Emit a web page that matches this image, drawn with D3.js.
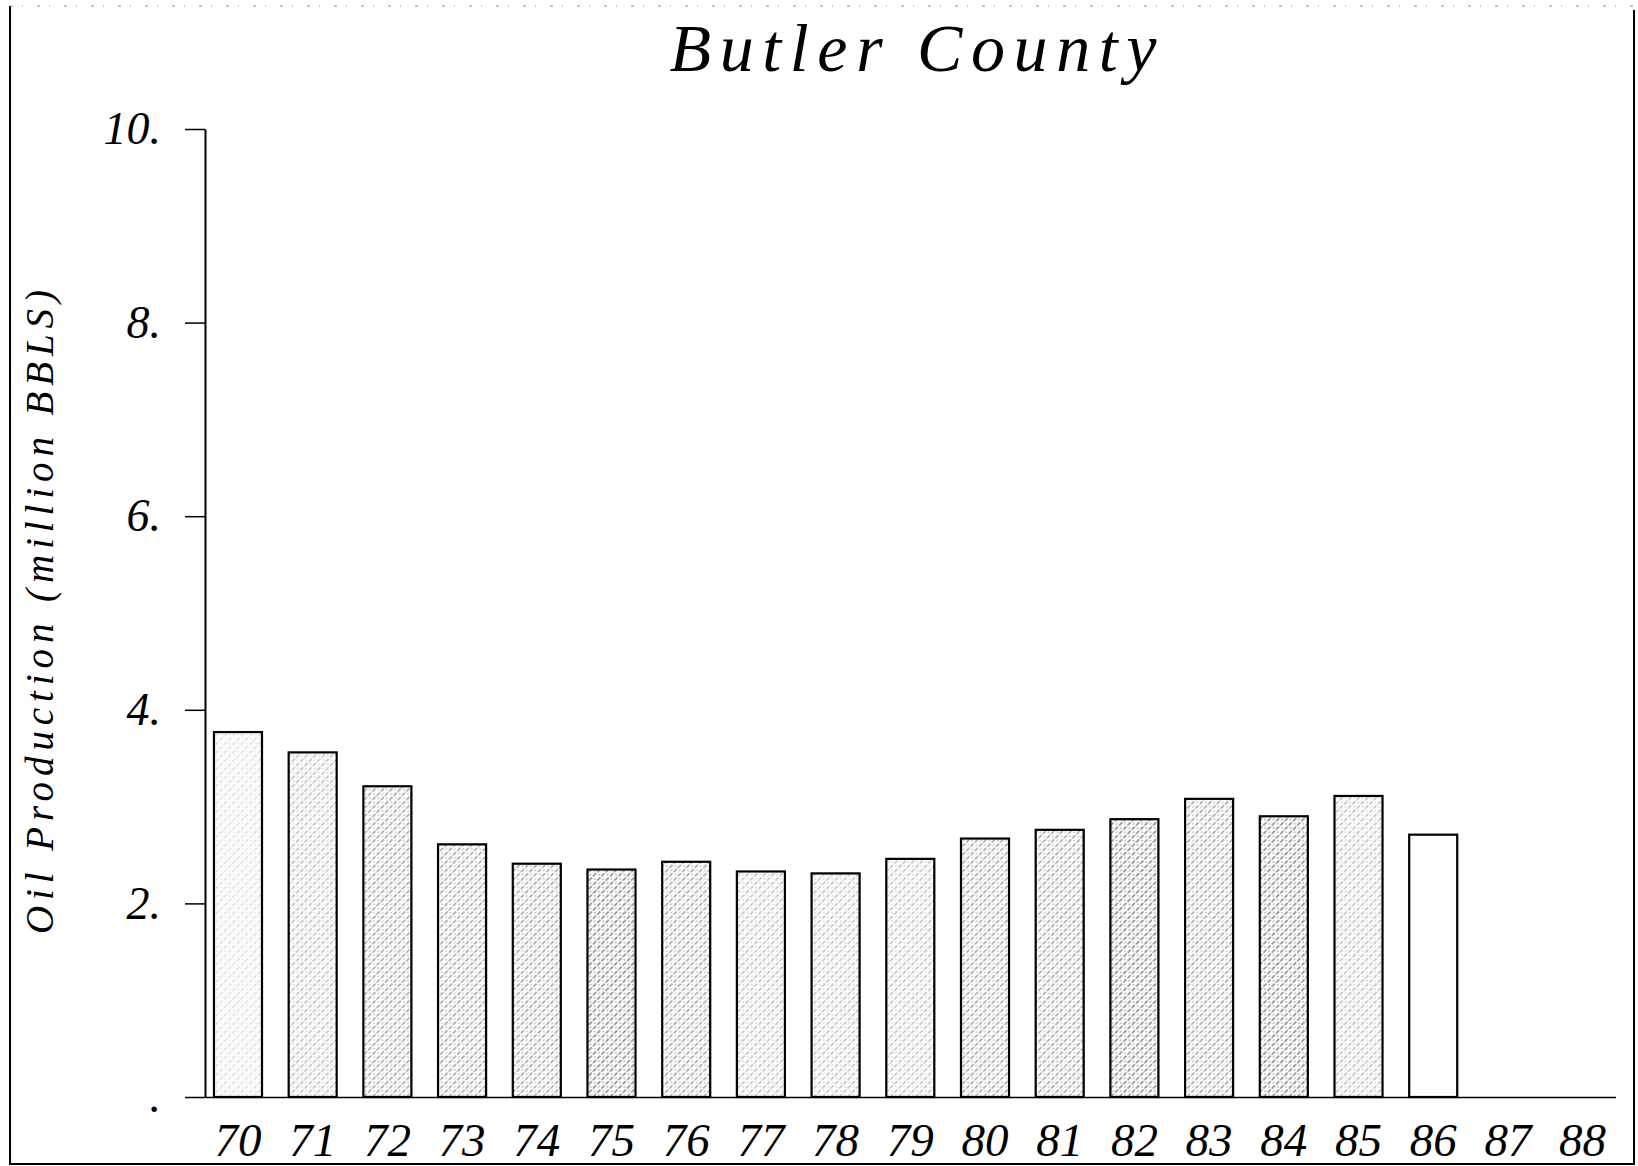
<!DOCTYPE html>
<html>
<head>
<meta charset="utf-8">
<script src="https://cdn.jsdelivr.net/npm/d3@7"></script>
<style>
  html, body { margin: 0; padding: 0; background: #fff; }
</style>
</head>
<body>
<script>
// chart data
const years = ["70","71","72","73","74","75","76","77","78","79","80","81","82","83","84","85","86","87","88"]
const production = [3.77, 3.56, 3.21, 2.61, 2.41, 2.35, 2.43, 2.33, 2.31, 2.46, 2.67, 2.76, 2.87, 3.08, 2.90, 3.11, 2.71, null, null]
const yTicks = [0, 2, 4, 6, 8, 10]
// hatch density of each bar (0 = white .. 4 = dense)
const shade = [1, 2, 3, 3, 3, 4, 3, 2, 2, 2, 3, 3, 4, 3, 4, 2, 0, 0, 0]

const width = 1638, height = 1166
const font = "'Liberation Serif', 'Times New Roman', serif"

const svg = d3.select("body").append("svg")
      .attr("width", width)
      .attr("height", height)
      .attr("viewBox", [0, 0, width, height])

// hatch patterns
const defs = svg.append("defs")
const levels = [0, 0.25, 0.45, 0.65, 0.85]
levels.forEach((op, i) => {
      const p = defs.append("pattern")
            .attr("id", "hatch" + i)
            .attr("patternUnits", "userSpaceOnUse")
            .attr("width", 6)
            .attr("height", 6)
            .attr("patternTransform", "rotate(45)")
      p.append("rect").attr("width", 6).attr("height", 6).attr("fill", "#fff")
      if (op > 0) {
            p.append("line")
                  .attr("x1", 1).attr("x2", 1)
                  .attr("y1", 0).attr("y2", 6)
                  .attr("stroke", "#222")
                  .attr("stroke-width", 1)
                  .attr("stroke-dasharray", "2.5 1.5")
                  .attr("opacity", op)
            p.append("circle")
                  .attr("cx", 4).attr("cy", 3).attr("r", 0.7)
                  .attr("fill", "#222")
                  .attr("opacity", op * 0.8)
      }
})

// frame
svg.append("path")
      .attr("d", `M10,6 V1164 H1634 V10`)
      .attr("fill", "none")
      .attr("stroke", "#000")
      .attr("stroke-width", 2)
svg.append("line")
      .attr("x1", 10).attr("x2", 1634)
      .attr("y1", 6).attr("y2", 6)
      .attr("stroke", "#888")
      .attr("stroke-width", 1)
      .attr("stroke-dasharray", "3 9 1 14")

// scales
const x = d3.scaleBand()
      .domain(years)
      .range([205, 1615.6])
      .paddingInner(0.357)
      .paddingOuter(0.12)
const y = d3.scaleLinear()
      .domain([0, 10])
      .range([1097, 129])

// bars
svg.append("g")
      .selectAll("rect")
      .data(years.map((yr, i) => ({ yr, v: production[i], s: shade[i] })).filter(d => d.v != null))
      .join("rect")
      .attr("x", d => x(d.yr))
      .attr("y", d => y(d.v))
      .attr("width", x.bandwidth())
      .attr("height", d => y(0) - y(d.v))
      .attr("fill", d => `url(#hatch${d.s})`)
      .attr("stroke", "#000")
      .attr("stroke-width", 2.2)

// y axis
svg.append("g")
      .attr("transform", "translate(205,0)")
      .call(d3.axisLeft(y)
            .tickValues(yTicks)
            .tickSize(20)
            .tickSizeOuter(0)
            .tickPadding(24)
            .tickFormat(d => d === 0 ? "." : d + "."))
      .call(g => g.selectAll("path, line").attr("stroke", "#000").attr("stroke-width", 2))
      .call(g => g.selectAll(".tick line").attr("stroke-width", 1.5))
      .call(g => g.selectAll(".tick text")
            .attr("font-family", font)
            .attr("font-style", "italic")
            .attr("font-size", 46)
            .attr("fill", "#000")
            .attr("dy", "0.32em"))

// x axis
svg.append("g")
      .attr("transform", "translate(0,1097)")
      .call(d3.axisBottom(x).tickSize(0).tickSizeOuter(0).tickPadding(26))
      .call(g => g.select(".domain").attr("stroke", "#000").attr("stroke-width", 1.5))
      .call(g => g.selectAll(".tick text")
            .attr("font-family", font)
            .attr("font-style", "italic")
            .attr("font-size", 47)
            .attr("fill", "#000"))

// title
svg.append("text")
      .attr("x", 913)
      .attr("y", 71)
      .attr("text-anchor", "middle")
      .attr("font-family", font)
      .attr("font-style", "italic")
      .attr("font-size", 68)
      .attr("textLength", 487)
      .attr("lengthAdjust", "spacing")
      .text("Butler County")

// y label
svg.append("text")
      .attr("transform", "translate(53,612) rotate(-90)")
      .attr("text-anchor", "middle")
      .attr("font-family", font)
      .attr("font-style", "italic")
      .attr("font-size", 39)
      .attr("textLength", 644)
      .attr("lengthAdjust", "spacing")
      .text("Oil Production (million BBLS)")
</script>
</body>
</html>
